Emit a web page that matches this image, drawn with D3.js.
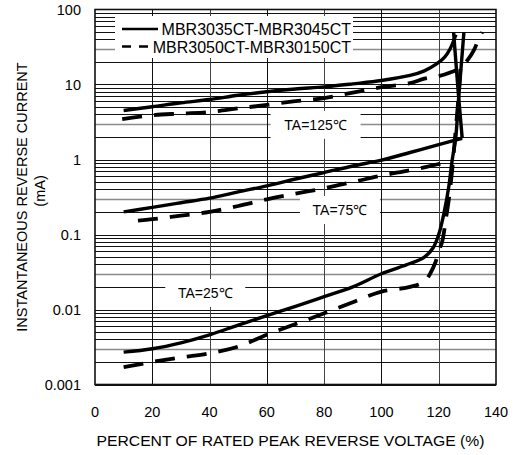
<!DOCTYPE html>
<html><head><meta charset="utf-8">
<script src="https://cdn.jsdelivr.net/npm/d3@7"></script>
<style>body{margin:0;background:#fff} text{font-family:"Liberation Sans",Arial,Helvetica,sans-serif;fill:#000}</style>
</head><body><svg id="c" width="516" height="455"></svg>
<script>
// ---- data ----
const xTicks = [0, 20, 40, 60, 80, 100, 120, 140];
const yTicks = [0.001, 0.01, 0.1, 1, 10, 100];
const yTickLabels = ["0.001", "0.01", "0.1", "1", "10", "100"];
const seriesNames = ["MBR3035CT-MBR3045CT", "MBR3050CT-MBR30150CT"];
const tempLabels = ["TA=125℃", "TA=75℃", "TA=25℃"];
const xTitle = "PERCENT OF RATED PEAK REVERSE VOLTAGE (%)";
const yTitle1 = "INSTANTANEOUS REVERSE CURRENT";
const yTitle2 = "(mA)";

// MBR3035CT-MBR3045CT (solid)
const solid125 = [[10,4.5],[20,5.05],[30,5.7],[40,6.3],[50,7.2],[60,8.0],[70,8.7],[80,9.3],[90,10.2],[100,11.3],[110,13.2],[115,15.2],[119,18.5],[122,23],[124,30],[126,46]];
const solid75 = [[10,0.2],[20,0.23],[30,0.265],[40,0.305],[50,0.37],[60,0.445],[70,0.55],[80,0.67],[90,0.82],[100,0.98],[110,1.24],[120,1.58],[128.2,1.92],[126.8,8],[125.2,49]];
const solid25 = [[10,0.0027],[20,0.003],[30,0.0036],[40,0.0046],[50,0.0062],[60,0.0083],[70,0.011],[80,0.0148],[90,0.02],[100,0.03],[110,0.041],[115,0.05],[118,0.066],[120,0.1],[121.8,0.19],[123.5,0.43],[124.7,0.98],[125.9,1.9],[126.9,6.2],[128.8,50]];
// MBR3050CT-MBR30150CT (dashed)
const dashed125 = [[9.5,3.45],[20,3.9],[30,4.1],[40,4.3],[50,4.8],[60,5.35],[70,6.0],[80,6.6],[90,7.8],[100,9.2],[110,10.4],[115,12],[120,12.9],[124.7,14.8],[127.6,16.6],[130,21],[132.3,28.8],[134,41],[135.2,50]];
const dashed75 = [[15,0.153],[20,0.16],[30,0.178],[40,0.2],[50,0.24],[60,0.294],[70,0.35],[80,0.413],[90,0.5],[100,0.61],[110,0.72],[120,0.87],[124.7,1.0]];
const dashed25 = [[10,0.0017],[20,0.002],[30,0.0023],[40,0.0026],[50,0.0032],[60,0.0046],[70,0.0064],[80,0.0089],[90,0.0125],[100,0.0173],[110,0.02],[115,0.0235],[117,0.03],[118.9,0.043],[120.1,0.062],[121.2,0.08],[122.5,0.16],[123.8,0.35],[124.8,0.8],[125.8,2.2],[126.8,6],[127.6,16.6]];

// ---- layout ----
const W = 516, H = 455;
const m = {l: 95, r: 496, t: 9.5, b: 384.5};
const svg = d3.select("#c");
svg.append("rect").attr("width", W).attr("height", H).attr("fill", "#fff");

const x = d3.scaleLinear().domain([0, 140]).range([m.l, m.r]);
const y = d3.scaleLog().domain([0.001, 100]).range([m.b, m.t]);

// grid: horizontal minor/major
const gridVals = [];
for (let e = -3; e < 2; e++) {
  for (let k = 1; k <= 9; k++) gridVals.push(k * Math.pow(10, e));
}
const mant = d => Math.round(d / Math.pow(10, Math.floor(Math.log10(d) + 1e-9)));
const g = svg.append("g");
g.selectAll("line.h").data(gridVals).join("line")
  .attr("x1", m.l).attr("x2", m.r)
  .attr("y1", d => Math.round(y(d)) + 0.5).attr("y2", d => Math.round(y(d)) + 0.5)
  .attr("stroke", d => mant(d) === 3 ? "#8a8a8a" : "#111")
  .attr("stroke-width", d => mant(d) === 3 ? 1.5 : 1);
g.selectAll("line.v").data(xTicks.slice(1, -1)).join("line")
  .attr("x1", d => Math.round(x(d)) + 0.5).attr("x2", d => Math.round(x(d)) + 0.5)
  .attr("y1", m.t).attr("y2", m.b)
  .attr("stroke", (d, i) => i % 2 ? "#444" : "#111").attr("stroke-width", 1);

// frame
svg.append("rect").attr("x", m.l).attr("y", m.t).attr("width", m.r - m.l).attr("height", m.b - m.t)
  .attr("fill", "none").attr("stroke", "#111").attr("stroke-width", 1.6);

// white label boxes
const boxes = svg.append("g");
boxes.append("rect").attr("x", 115).attr("y", 16).attr("width", 238).attr("height", 42).attr("fill", "#fff");
const tempPos = [[77, 2.9], [85.5, 0.212], [38.5, 0.0166]];
tempLabels.forEach((t, i) => {
  const cx = x(tempPos[i][0]), cy = y(tempPos[i][1]);
  const bw = i === 0 ? 90 : 80;
  boxes.append("rect").attr("x", cx - bw / 2).attr("y", cy - 14).attr("width", bw).attr("height", 28).attr("fill", "#fff");
  boxes.append("text").attr("x", cx).attr("y", cy + 5).attr("text-anchor", "middle")
    .attr("font-size", 14).text(t);
});

// curves
const line = d3.line().x(d => x(d[0])).y(d => y(d[1])).curve(d3.curveCatmullRom.alpha(0.5));
const curves = svg.append("g").attr("fill", "none").attr("stroke", "#000").attr("stroke-linecap", "butt").attr("stroke-linejoin", "miter");
// split each series where it turns back in x (sharp corner) so the spline does not overshoot
function pieces(s) {
  const out = [[s[0]]];
  for (let i = 1; i < s.length; i++) {
    out[out.length - 1].push(s[i]);
    if (i < s.length - 1 && s[i + 1][0] < s[i][0]) out.push([s[i]]);
  }
  return out;
}
[solid125, solid75, solid25].forEach(s => {
  pieces(s).forEach(p => curves.append("path").attr("d", line(p)).attr("stroke-width", 3.4));
});
[dashed125, dashed75, dashed25].forEach(s => {
  curves.append("path").attr("d", line(s)).attr("stroke-width", 3.8).attr("stroke-dasharray", "20,12");
});

// legend
const leg = svg.append("g");
leg.append("line").attr("x1", 122).attr("x2", 158).attr("y1", 29).attr("y2", 29).attr("stroke", "#000").attr("stroke-width", 2.6);
leg.append("line").attr("x1", 122).attr("x2", 150).attr("y1", 46.5).attr("y2", 46.5).attr("stroke", "#000").attr("stroke-width", 2.6).attr("stroke-dasharray", "9,8");
leg.append("text").attr("x", 351).attr("y", 34.5).attr("text-anchor", "end").attr("font-size", 16).text(seriesNames[0]);
leg.append("text").attr("x", 351).attr("y", 52.5).attr("text-anchor", "end").attr("font-size", 16).text(seriesNames[1]);

// axes tick labels
const ax = svg.append("g");
ax.selectAll("text.xt").data(xTicks).join("text")
  .attr("x", d => x(d)).attr("y", 417).attr("text-anchor", "middle").attr("font-size", 14.5)
  .text(d => d);
ax.selectAll("text.yt").data(yTicks).join("text")
  .attr("x", 81).attr("y", d => y(d) + 5).attr("text-anchor", "end").attr("font-size", 14.5)
  .text((d, i) => yTickLabels[i]);

// titles
svg.append("text").attr("x", 290.5).attr("y", 446).attr("text-anchor", "middle").attr("font-size", 14.5)
  .attr("textLength", 388).attr("lengthAdjust", "spacingAndGlyphs").text(xTitle);
svg.append("text").attr("transform", "translate(27,197) rotate(-90)").attr("text-anchor", "middle").attr("font-size", 14.5).text(yTitle1);
svg.append("text").attr("transform", "translate(45,191) rotate(-90)").attr("text-anchor", "middle").attr("font-size", 14.5).text(yTitle2);
</script></body></html>
